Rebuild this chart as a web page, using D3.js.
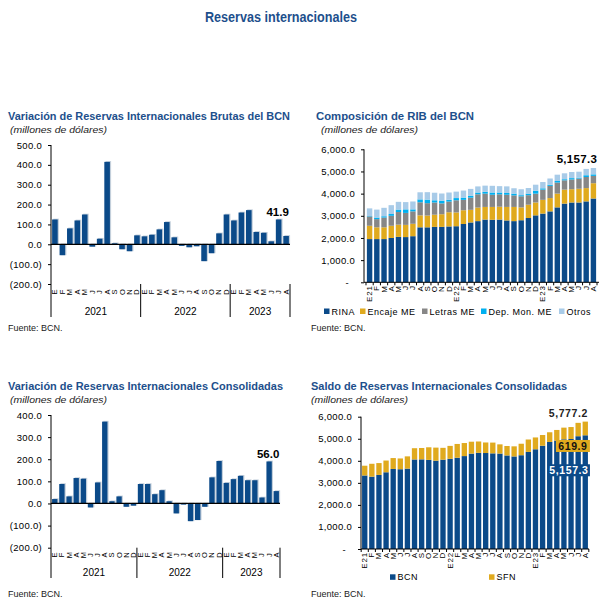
<!DOCTYPE html>
<html><head><meta charset="utf-8">
<script src="https://cdn.jsdelivr.net/npm/d3@7"></script>
<style>
body{margin:0;background:#fff}
svg{display:block}
text{font-family:"Liberation Sans",Arial,sans-serif}
</style>
</head><body>
<svg id="c" width="608" height="605"></svg>
<script>
// ---------- DATA ----------
const mainTitle = "Reservas internacionales";
const titles = [
  "Variación de Reservas Internacionales Brutas del BCN",
  "Composición de RIB del BCN",
  "Variación de Reservas Internacionales Consolidadas",
  "Saldo de Reservas Internacionales Consolidadas"
];
const subtitle = "(millones de dólares)";
const source = "Fuente: BCN.";
const months = ["E","F","M","A","M","J","J","A","S","O","N","D"];
const years = ["2021","2022","2023"];
const monthsPerYear = [12,12,8];

// Variación de Reservas Internacionales Brutas del BCN
const varBrutas = [125,-55,80,120,150,-12,28,415,5,-25,-35,45,
                   40,48,75,112,35,-8,-15,-10,-85,-45,55,150,
                   120,160,172,62,58,15,125,41.9];
// Variación de Reservas Internacionales Consolidadas
const varConsol = [20,88,32,115,112,-18,95,370,10,32,-15,-10,
                   88,88,42,60,10,-45,-5,-80,-75,-15,118,192,
                   93,110,125,105,105,27,190,56.0];
// Composición de RIB del BCN
const compKeys = ["RINA","Encaje ME","Letras ME","Dep. Mon. ME","Otros"];
const rina   = [1950,1950,1950,2000,2050,2040,2080,2480,2480,2500,2500,2520,
                2530,2630,2700,2760,2830,2820,2830,2790,2760,2800,2900,3020,
                3100,3200,3380,3550,3600,3600,3650,3780];
const encaje = [600,530,530,550,550,550,560,540,530,550,570,640,
                620,620,570,610,570,580,580,610,640,580,600,580,
                620,600,620,630,600,620,600,690];
const letras = [420,370,440,450,570,540,560,590,560,550,490,480,
                550,470,550,600,600,550,560,550,520,500,430,400,
                460,550,500,420,440,460,500,330];
const depMon = [20,70,60,80,110,160,90,130,160,100,120,80,
                100,100,80,80,80,100,80,80,80,50,70,130,
                60,50,70,50,60,40,80,70];
const otros  = [345,360,380,400,350,328,356,321,336,341,326,331,
                291,319,314,276,281,303,288,298,243,268,253,273,
                283,283,285,267,275,270,285,287.3];
// Saldo de Reservas Internacionales Consolidadas
const bcn = [3335,3280,3360,3480,3630,3618,3646,4061,4066,4041,4006,4051,
             4091,4139,4214,4326,4361,4353,4338,4328,4243,4198,4253,4403,
             4523,4683,4855,4917,4975,4990,5115,5157.3];
const sfn = [442,585,537,532,494,488,555,510,515,572,592,537,
             585,625,592,540,515,478,488,418,428,458,521,563,
             536,486,439,482,529,541,606,619.9];
const saldoKeys = ["BCN","SFN"];
const ticksVar1 = [-200,-100,0,100,200,300,400,500];
const ticksVar3 = [-200,-100,0,100,200,300,400];
const ticksLevel = [0,1000,2000,3000,4000,5000,6000];

// ---------- STYLE ----------
const BLUE="#0B4A89", GOLD="#E0AA1E", GRAY="#878787", CYAN="#00B0F0", LIGHT="#A8CBE8";
const TITLE_C="#1D4F8C", SHADOW="#C3CFDB";
const compColors=[BLUE,GOLD,GRAY,CYAN,LIGHT];
const saldoColors=[BLUE,GOLD];

const svg=d3.select("#c");
const periods=[];
years.forEach((yr,yi)=>{for(let m=0;m<monthsPerYear[yi];m++)periods.push({m:months[m],y:yr,first:m===0});});
const N=periods.length;
const catShort=periods.map(p=>p.m);
const catLong=periods.map(p=>p.first?p.m+p.y.slice(2):p.m);

const fmtVar=v=>v<0?"("+d3.format(".1f")(-v)+")":d3.format(".1f")(v);
const fmtLvl=v=>v===0?"-":d3.format(",.1f")(v);

// main title
svg.append("text").attr("x",281).attr("y",22).attr("text-anchor","middle")
  .attr("font-size",14).attr("font-weight","bold").attr("fill",TITLE_C)
  .attr("textLength",152).attr("lengthAdjust","spacingAndGlyphs").text(mainTitle);

function header(t,x,y,len,sx,slen){
  svg.append("text").attr("x",x).attr("y",y).attr("font-size",11.5).attr("font-weight","bold")
    .attr("fill",TITLE_C).attr("textLength",len).attr("lengthAdjust","spacingAndGlyphs").text(t);
  svg.append("text").attr("x",sx).attr("y",y+13).attr("font-size",9.5).attr("font-style","italic")
    .attr("fill","#222").attr("textLength",slen).attr("lengthAdjust","spacingAndGlyphs").text(subtitle);
}
function src(x,y){
  svg.append("text").attr("x",x).attr("y",y).attr("font-size",9).attr("fill","#222").text(source);
}
function yAxis(g,y,ticks,fmt,x0){
  const ax=g.append("g").attr("transform",`translate(${x0},0)`)
    .call(d3.axisLeft(y).tickValues(ticks).tickFormat(fmt).tickSize(3).tickPadding(6));
  ax.select(".domain").remove();
  ax.selectAll("text").attr("font-family",'"Liberation Sans",Arial,sans-serif')
    .attr("font-size",9.5).attr("letter-spacing",0.3).attr("fill","#000");
  ax.selectAll("line").attr("stroke","#000");
  return ax;
}

// ---------- variation panels ----------
function varPanel(o){
  const g=svg.append("g");
  const x=d3.scaleBand().domain(d3.range(N)).range([o.x0,o.x1]).paddingInner(0.25).paddingOuter(0.15);
  const y=d3.scaleLinear().domain(o.dom).range(o.rng);
  const bw=x.bandwidth();
  yAxis(g,y,o.ticks,fmtVar,o.x0);
  g.selectAll(".sh").data(o.values).join("rect")
    .attr("x",(d,i)=>x(i)+1.2).attr("width",bw)
    .attr("y",d=>Math.min(y(d),y(0))-0.8).attr("height",d=>Math.abs(y(d)-y(0))+0.8)
    .attr("fill",SHADOW);
  g.selectAll(".b").data(o.values).join("rect")
    .attr("x",(d,i)=>x(i)).attr("width",bw)
    .attr("y",d=>Math.min(y(d),y(0))).attr("height",d=>Math.abs(y(d)-y(0)))
    .attr("fill",BLUE);
  g.append("line").attr("x1",o.x0).attr("x2",o.x1).attr("y1",y(0)).attr("y2",y(0)).attr("stroke","#000").attr("stroke-width",1.2);
  g.append("line").attr("x1",o.x0).attr("x2",o.x0).attr("y1",y(o.dom[1])).attr("y2",o.bottom).attr("stroke","#000");
  const step=x.step(), pad=step*x.paddingInner()/2;
  const bounds=[o.x0];let c=0;
  monthsPerYear.forEach(n=>{c+=n;bounds.push(c<N?x(c)-pad:o.x1);});
  bounds.slice(1).forEach(b=>g.append("line").attr("x1",b).attr("x2",b)
    .attr("y1",y(o.dom[0])).attr("y2",o.bottom).attr("stroke","#000"));
  g.selectAll(".ml").data(catShort).join("text")
    .attr("transform",(d,i)=>`translate(${x(i)+bw/2},${o.monthY}) rotate(-90)`)
    .attr("text-anchor","middle").attr("dominant-baseline","central")
    .attr("font-size",7.5).attr("fill","#000").text(d=>d);
  years.forEach((yr,i)=>g.append("text").attr("x",(bounds[i]+bounds[i+1])/2).attr("y",o.yearY)
    .attr("text-anchor","middle").attr("dominant-baseline","central").attr("font-size",10).attr("fill","#000").text(yr));
  const li=N-1;
  g.append("text").attr("x",x(li-1)+bw/2-1).attr("y",y(o.values[li-1])-7)
    .attr("text-anchor","middle").attr("dominant-baseline","central")
    .attr("font-family",'"Liberation Serif",serif').attr("font-weight","bold").attr("font-size",11.5)
    .attr("fill","#000").text(d3.format(".1f")(o.values[li]));
}

// ---------- level (stacked) panels ----------
function stackPanel(o){
  const g=svg.append("g");
  const x=d3.scaleBand().domain(d3.range(N)).range([o.x0,o.x1]).paddingInner(0.25).paddingOuter(o.po);
  const y=d3.scaleLinear().domain([0,6000]).range(o.rng);
  const bw=x.bandwidth();
  const ax=yAxis(g,y,ticksLevel,fmtLvl,o.x0);
  ax.selectAll("text").filter(d=>d===0).attr("dx",-6);
  const rows=d3.range(N).map(i=>{const r={i};o.keys.forEach((k,j)=>r[k]=o.series[j][i]);return r;});
  const st=d3.stack().keys(o.keys)(rows);
  st.forEach((s,j)=>{
    g.append("g").selectAll("rect").data(s).join("rect")
      .attr("x",d=>x(d.data.i)).attr("width",bw)
      .attr("y",d=>y(d[1])).attr("height",d=>y(d[0])-y(d[1]))
      .attr("fill",o.colors[j]);
  });
  g.append("line").attr("x1",o.x0).attr("x2",o.x0).attr("y1",y(6000)).attr("y2",y(0)).attr("stroke","#000");
  g.append("line").attr("x1",o.x0).attr("x2",o.x1).attr("y1",y(0)).attr("y2",y(0)).attr("stroke","#000");
  const pad=x.step()*x.paddingInner()/2;
  d3.range(N).forEach(i=>{const b=x(i)-pad;g.append("line").attr("x1",b).attr("x2",b).attr("y1",y(0)).attr("y2",y(0)+3).attr("stroke","#000");});
  g.append("line").attr("x1",x(N-1)+bw+pad).attr("x2",x(N-1)+bw+pad).attr("y1",y(0)).attr("y2",y(0)+3).attr("stroke","#000");
  g.selectAll(".ml").data(catLong).join("text")
    .attr("transform",(d,i)=>`translate(${x(i)+bw/2},${y(0)+3}) rotate(-90)`)
    .attr("text-anchor","end").attr("dominant-baseline","central")
    .attr("font-size",8).attr("letter-spacing",0.8).attr("fill","#000").text(d=>d);
  o.keys.forEach((k,j)=>{
    g.append("rect").attr("x",o.legX[j]).attr("y",o.legY-3).attr("width",5.5).attr("height",5.5).attr("fill",o.colors[j]);
    g.append("text").attr("x",o.legX[j]+7.5).attr("y",o.legY).attr("dominant-baseline","central")
      .attr("font-size",9).attr("letter-spacing",0.5).attr("fill","#000").text(k);
  });
  return {g,x,y,bw};
}

header(titles[0],8,120,282,10,97);
varPanel({values:varBrutas,x0:51,x1:290,dom:[-200,500],rng:[284,145],ticks:ticksVar1,bottom:317,monthY:292,yearY:311});
src(8,331);

header(titles[1],316,120,158,321,97);
const p2=stackPanel({keys:compKeys,series:[rina,encaje,letras,depMon,otros],colors:compColors,
  x0:364,x1:599,po:0.4,rng:[282.3,149.3],legX:[324,360,422,481,559],legY:311.5});
{
  const tot=d3.range(N).map(i=>rina[i]+encaje[i]+letras[i]+depMon[i]+otros[i]);
  p2.g.append("text").attr("x",p2.x(N-1)+p2.bw+1).attr("y",p2.y(tot[N-1])-9)
    .attr("text-anchor","end").attr("dominant-baseline","central")
    .attr("font-family",'"Liberation Serif",serif').attr("font-weight","bold").attr("font-size",11.5)
    .attr("letter-spacing",0.3).attr("fill","#000").text(d3.format(",.1f")(tot[N-1]));
}
src(311,331);

header(titles[2],8,390,275,10,97);
varPanel({values:varConsol,x0:51,x1:280,dom:[-200,400],rng:[547.7,415],ticks:ticksVar3,bottom:578,monthY:555,yearY:572.5});
src(8,597);

header(titles[3],311,390,256,311,97);
const p4=stackPanel({keys:saldoKeys,series:[bcn,sfn],colors:saldoColors,
  x0:361,x1:589,po:0.15,rng:[549,416.7],legX:[390,489],legY:577.3});
{
  const li=N-1, right=p4.x(li)+p4.bw;
  const tot=bcn[li]+sfn[li];
  const lf='"Liberation Serif",serif';
  p4.g.append("text").attr("x",right).attr("y",p4.y(tot)-9).attr("text-anchor","end").attr("dominant-baseline","central")
    .attr("font-family",lf).attr("font-weight","bold").attr("font-size",10.5).attr("letter-spacing",0.6)
    .attr("fill","#222").text(d3.format(",.1f")(tot));
  const yb=p4.y(bcn[li]);
  p4.g.append("rect").attr("x",right-32).attr("y",yb+4.7).attr("width",34).attr("height",12).attr("fill",GOLD);
  p4.g.append("text").attr("x",right-15).attr("y",yb+10.9).attr("text-anchor","middle").attr("dominant-baseline","central")
    .attr("font-family",lf).attr("font-weight","bold").attr("font-size",10.5).attr("letter-spacing",0.6)
    .attr("fill","#111").text(d3.format(",.1f")(sfn[li]));
  p4.g.append("rect").attr("x",right-40).attr("y",yb+29).attr("width",42).attr("height",12).attr("fill",BLUE);
  p4.g.append("text").attr("x",right-19).attr("y",yb+35.2).attr("text-anchor","middle").attr("dominant-baseline","central")
    .attr("font-family",lf).attr("font-weight","bold").attr("font-size",10.5).attr("letter-spacing",0.6)
    .attr("fill","#fff").text(d3.format(",.1f")(bcn[li]));
}
src(311,597);
</script>
</body></html>
